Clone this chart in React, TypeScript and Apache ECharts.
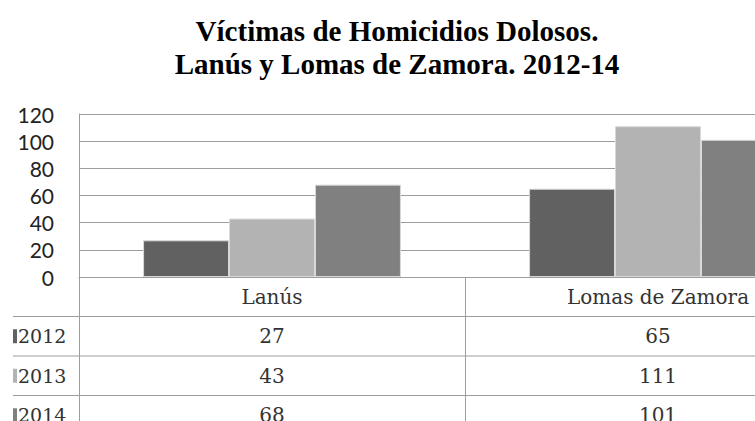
import React, { useEffect, useRef } from "react";
import * as echarts from "echarts";

const titleLines = ["Víctimas de Homicidios Dolosos.", "Lanús y Lomas de Zamora. 2012-14"];
const categories = ["Lanús", "Lomas de Zamora"];
const years = ["2012", "2013", "2014"];
const values2012 = [27, 65];
const values2013 = [43, 111];
const values2014 = [68, 101];
const seriesValues = [values2012, values2013, values2014];
const colors = ["#616161", "#b3b3b3", "#808080"];
const yTicks = { min: 0, max: 120, interval: 20 };

const CHART_W = 900;
const CHART_H = 421;
const GRID_LEFT = 79;
const GRID_TOP = 114;
const GRID_H = 163;
const CAT_W = 386;
const ROW_H = 39.5;
const LINE_COLOR = "#9d9d9d";
const SERIF = "'DejaVu Serif', 'Liberation Serif', serif";
const TITLE_SERIF = "'Liberation Serif', serif";

export default function App() {
  const ref = useRef<HTMLDivElement>(null);
  useEffect(() => {
    if (!ref.current) return;
    const chart = echarts.init(ref.current, null, { renderer: "svg" });
    const axisY = GRID_TOP + GRID_H;
    const gridRight = CHART_W - GRID_LEFT - CAT_W * categories.length;
    const graphics: any[] = [];
    years.forEach((y, i) => {
      const lineY = axisY + ROW_H * (i + 1);
      graphics.push({
        type: "line",
        shape: { x1: 13, y1: lineY, x2: GRID_LEFT + CAT_W * categories.length, y2: lineY },
        style: { stroke: LINE_COLOR, lineWidth: 1 },
        silent: true,
      });
      const cy = lineY + ROW_H / 2;
      graphics.push({
        type: "rect",
        shape: { x: 13, y: cy - 7, width: 4, height: 14 },
        style: { fill: colors[i] },
        silent: true,
      });
      graphics.push({
        type: "text",
        x: 18,
        y: cy,
        style: {
          text: y,
          font: `19px ${SERIF}`,
          fill: "#333",
          verticalAlign: "middle",
          align: "left",
        },
        silent: true,
      });
    });
    titleLines.forEach((t, i) => {
      graphics.push({
        type: "text",
        x: 397,
        y: 31 + i * 33,
        style: {
          text: t,
          font: `bold 29px ${TITLE_SERIF}`,
          fill: "#000",
          align: "center",
          verticalAlign: "middle",
        },
        silent: true,
      });
    });

    chart.setOption({
      animation: false,
      grid: {
        left: GRID_LEFT,
        top: GRID_TOP,
        height: GRID_H,
        right: gridRight,
        outerBoundsMode: "none",
      },
      xAxis: {
        type: "category",
        data: categories,
        axisLine: { show: true, lineStyle: { color: LINE_COLOR, width: 1 } },
        axisTick: { show: true, length: CHART_H - axisY, lineStyle: { color: LINE_COLOR, width: 1 } },
        axisLabel: {
          margin: 0,
          interval: 0,
          fontFamily: SERIF,
          fontSize: 20,
          color: "#333",
          lineHeight: ROW_H,
          formatter: (value: string, index: number) =>
            [value, ...seriesValues.map((s) => String(s[index]))].join("\n"),
        },
      },
      yAxis: {
        type: "value",
        min: yTicks.min,
        max: yTicks.max,
        interval: yTicks.interval,
        axisLine: { show: true, lineStyle: { color: LINE_COLOR, width: 1 } },
        axisTick: { show: false },
        splitLine: { show: true, lineStyle: { color: LINE_COLOR, width: 1 } },
        axisLabel: {
          margin: 25,
          fontFamily: "Lato, 'Open Sans', sans-serif",
          fontSize: 21,
          color: "#222",
        },
      },
      series: years.map((y, i) => ({
        name: y,
        type: "bar",
        data: seriesValues[i],
        barGap: "0%",
        barCategoryGap: "33.2%",
        itemStyle: { color: colors[i], borderColor: "#d8d8d8", borderWidth: 1 },
      })),
      graphic: graphics,
    });
    return () => chart.dispose();
  }, []);
  return (
    <div style={{ position: "absolute", left: 0, top: 0, width: 755, height: 421, overflow: "hidden", background: "#fff" }}>
      <div ref={ref} style={{ width: CHART_W, height: CHART_H }} />
    </div>
  );
}
